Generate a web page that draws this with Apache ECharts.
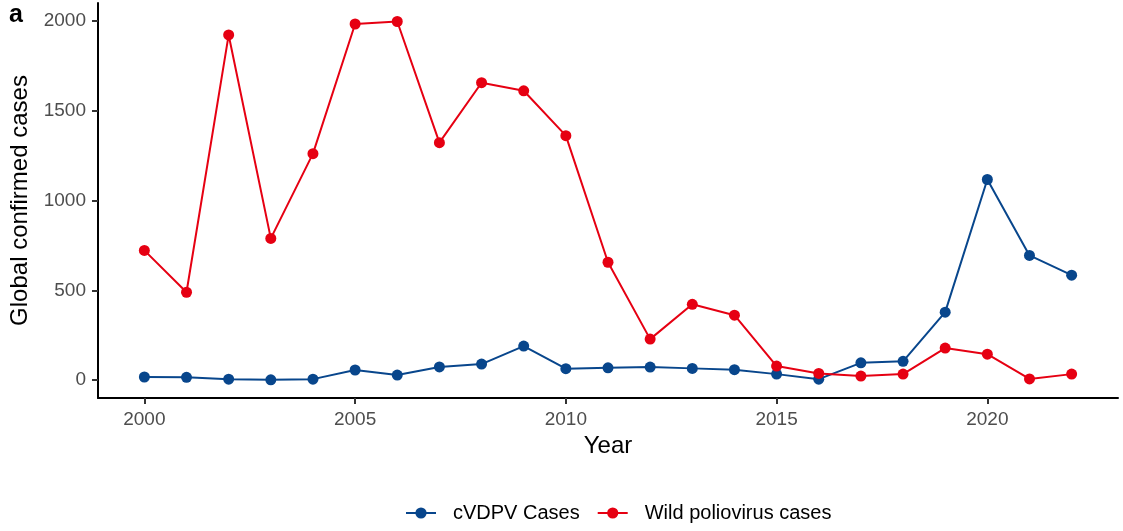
<!DOCTYPE html>
<html>
<head>
<meta charset="utf-8">
<script src="https://cdn.jsdelivr.net/npm/echarts@6/dist/echarts.min.js"></script>
<style>
  html, body { margin: 0; padding: 0; background: #fff; }
  #chart { width: 1123px; height: 531px; }
</style>
</head>
<body>
<div id="chart"></div>
<script>
var years = [2000, 2001, 2002, 2003, 2004, 2005, 2006, 2007, 2008, 2009, 2010,
             2011, 2012, 2013, 2014, 2015, 2016, 2017, 2018, 2019, 2020, 2021, 2022];
var cvdpv = [17, 15, 5, 1, 5, 56, 28, 73, 89, 189, 63,
             68, 72, 65, 58, 33, 5, 96, 104, 378, 1117, 694, 584];
var wild = [722, 489, 1922, 789, 1261, 1983, 1997, 1322, 1656, 1611, 1361,
            656, 228, 422, 361, 78, 37, 22, 33, 178, 144, 6, 33];
var xTicks = [2000, 2005, 2010, 2015, 2020];
var yTicks = [0, 500, 1000, 1500, 2000];

var BLUE = '#08468c';
var RED = '#e60012';
var FONT = 'Liberation Sans, Arial, sans-serif';

var myChart = echarts.init(document.getElementById('chart'));

function pairs(vals) {
  return years.map(function (y, i) { return [y, vals[i]]; });
}

var option = {
  animation: false,
  backgroundColor: '#fff',
  textStyle: { fontFamily: FONT },
  grid: { left: 98, right: 5, top: 3, bottom: 133, containLabel: false, outerBoundsMode: 'none' },
  xAxis: {
    type: 'value',
    min: 1998.9,
    max: 2023.1,
    name: 'Year',
    nameLocation: 'middle',
    nameGap: 33,
    nameTextStyle: { fontSize: 24, color: '#000' },
    splitLine: { show: false },
    axisLine: { show: true, onZero: false, lineStyle: { color: '#000', width: 2 } },
    axisTick: { show: true, customValues: xTicks, length: 6, lineStyle: { color: '#333333', width: 2 } },
    axisLabel: { customValues: xTicks, fontSize: 19, color: '#4d4d4d', margin: 12,
                 formatter: function (v) { return String(v); } }
  },
  yAxis: {
    type: 'value',
    min: -100,
    max: 2100,
    name: 'Global confirmed cases',
    nameLocation: 'middle',
    nameGap: 58,
    nameTextStyle: { fontSize: 24, color: '#000' },
    splitLine: { show: false },
    axisLine: { show: true, onZero: false, lineStyle: { color: '#000', width: 2 } },
    axisTick: { show: true, customValues: yTicks, length: 6, lineStyle: { color: '#333333', width: 2 } },
    axisLabel: { customValues: yTicks, fontSize: 19, color: '#4d4d4d', margin: 12,
                 formatter: function (v) { return String(v); } }
  },
  legend: {
    top: 503,
    left: 405,
    padding: 0,
    itemWidth: 30,
    itemHeight: 14,
    itemGap: 17,
    textStyle: { fontSize: 20, color: '#000', padding: [0, 0, 0, 12] },
    data: ['cVDPV Cases', 'Wild poliovirus cases']
  },
  graphic: [{
    type: 'text',
    left: 9,
    top: 3,
    style: { text: 'a', font: 'bold 25px ' + FONT, fill: '#000' }
  }],
  series: [{
    name: 'cVDPV Cases',
    type: 'line',
    data: pairs(cvdpv),
    symbol: 'circle',
    symbolSize: 11,
    lineStyle: { color: BLUE, width: 2 },
    itemStyle: { color: BLUE }
  }, {
    name: 'Wild poliovirus cases',
    type: 'line',
    data: pairs(wild),
    symbol: 'circle',
    symbolSize: 11,
    lineStyle: { color: RED, width: 2 },
    itemStyle: { color: RED }
  }]
};

myChart.setOption(option);
</script>
</body>
</html>
